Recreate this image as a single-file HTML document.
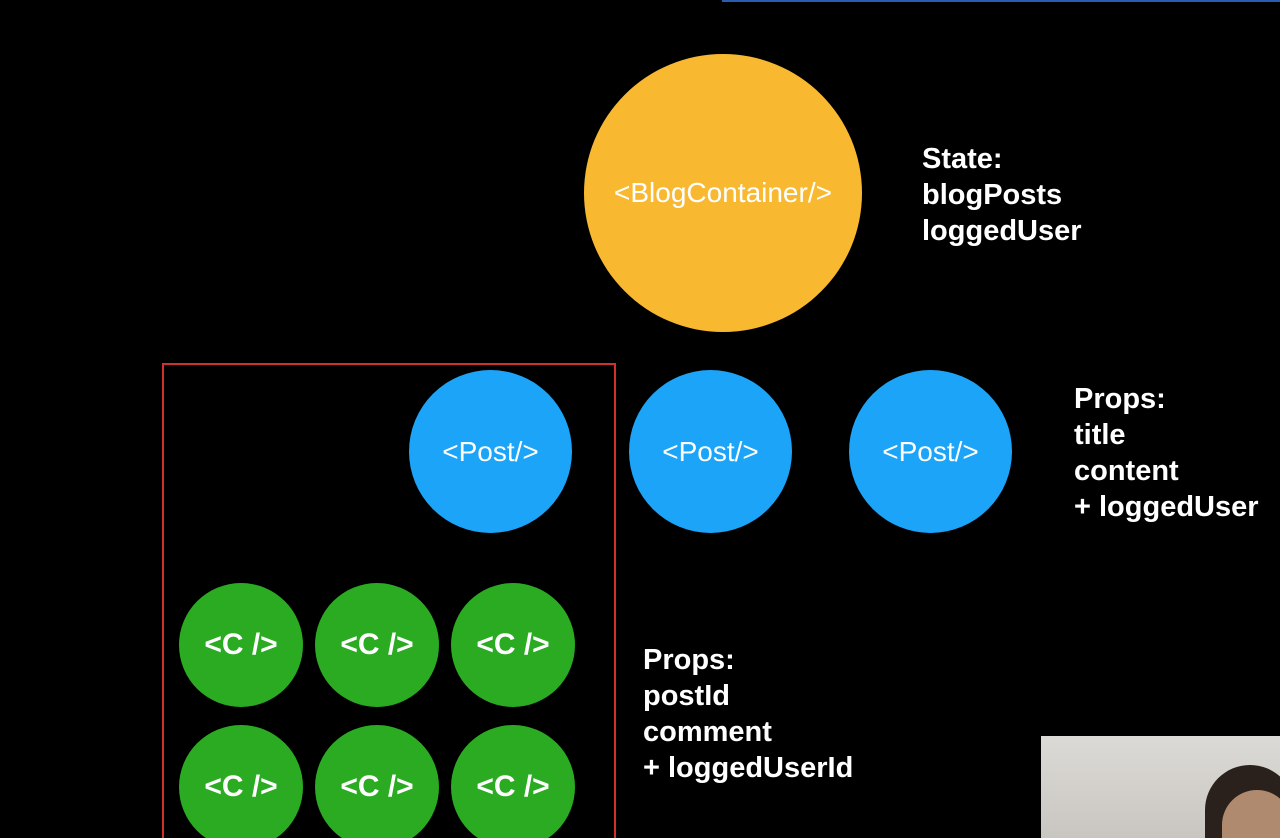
<!DOCTYPE html>
<html><head><style>
html,body{margin:0;width:1280px;height:838px;overflow:hidden}
body{background:#000;position:relative;font-family:"Liberation Sans",sans-serif}
.c{position:absolute;border-radius:50%;display:flex;align-items:center;justify-content:center;color:#fff}
.t{position:absolute;color:#fff;font-weight:bold;font-size:29px;line-height:36px}
.g{background:#2aab22;font-size:30px;font-weight:bold;width:124px;height:124px}
.p{background:#1ba4f8;font-size:28px;width:163px;height:163px;top:370px}
</style></head><body>
<div style="position:absolute;left:722px;top:0;width:558px;height:2px;background:#2a5db0"></div>
<div class="c" style="left:584px;top:54px;width:278px;height:278px;background:#f8b930;font-size:28px">&lt;BlogContainer/&gt;</div>
<div class="t" style="left:922px;top:141px">State:<br>blogPosts<br>loggedUser</div>
<div style="position:absolute;left:162px;top:363px;width:450px;height:500px;border:2px solid #d2312b"></div>
<div class="c p" style="left:409px">&lt;Post/&gt;</div>
<div class="c p" style="left:629px">&lt;Post/&gt;</div>
<div class="c p" style="left:849px">&lt;Post/&gt;</div>
<div class="t" style="left:1074px;top:381px">Props:<br>title<br>content<br>+ loggedUser</div>
<div class="c g" style="left:179px;top:583px">&lt;C /&gt;</div>
<div class="c g" style="left:315px;top:583px">&lt;C /&gt;</div>
<div class="c g" style="left:451px;top:583px">&lt;C /&gt;</div>
<div class="c g" style="left:179px;top:725px">&lt;C /&gt;</div>
<div class="c g" style="left:315px;top:725px">&lt;C /&gt;</div>
<div class="c g" style="left:451px;top:725px">&lt;C /&gt;</div>
<div class="t" style="left:643px;top:642px">Props:<br>postId<br>comment<br>+ loggedUserId</div>
<div style="position:absolute;left:1041px;top:736px;width:239px;height:102px;background:linear-gradient(180deg,#dcdad6,#c9c6c1);overflow:hidden">
<div style="position:absolute;left:164px;top:29px;width:90px;height:100px;border-radius:45px 45px 0 0;background:#2a211c"></div>
<div style="position:absolute;left:181px;top:54px;width:70px;height:60px;border-radius:35px 35px 0 0;background:#b08a6e"></div>
</div>
</body></html>
